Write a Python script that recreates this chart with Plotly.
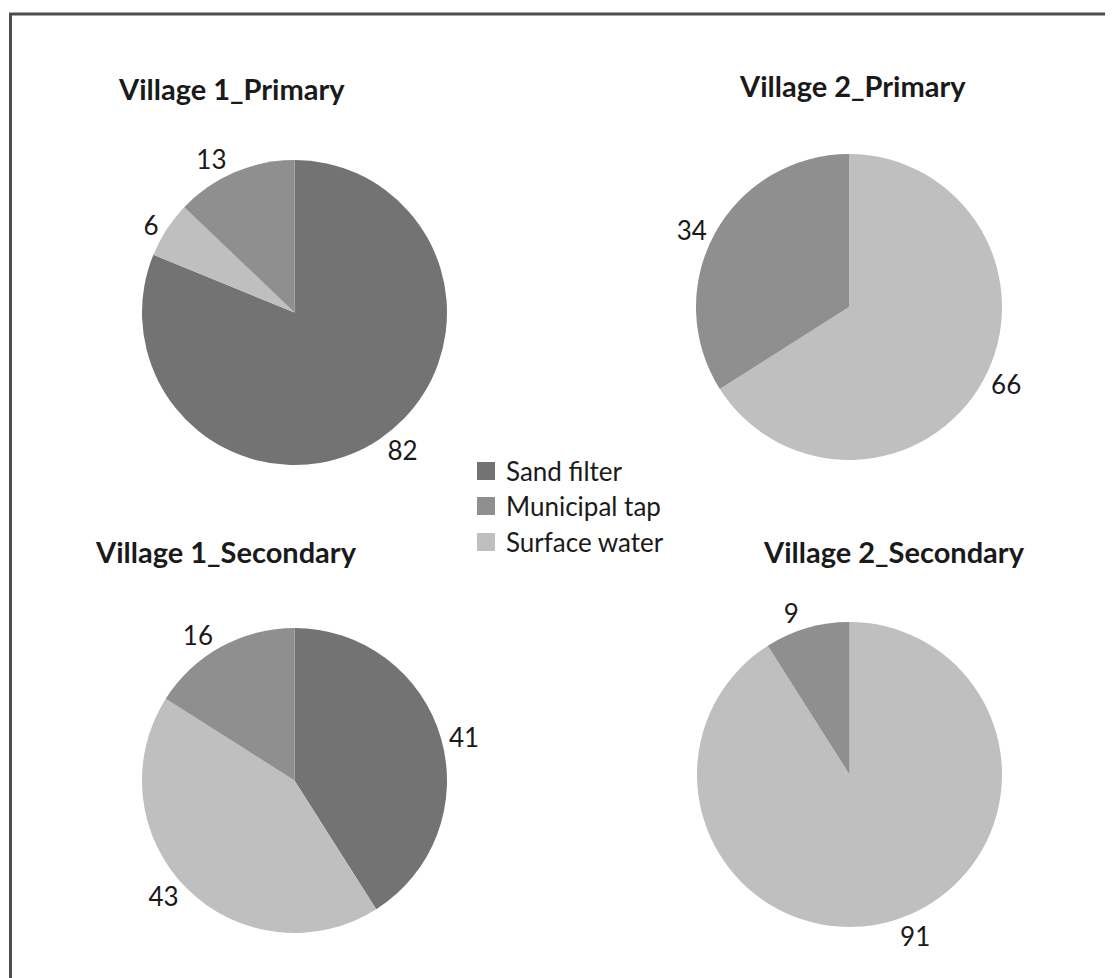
import plotly.graph_objects as go

W, H = 1113, 978
OX, OY = 8, 8  # page body margin offset of the rendered figure

# ---- data ----
categories = ["Sand filter", "Municipal tap", "Surface water"]
colors = {"Sand filter": "#737373", "Municipal tap": "#8f8f8f", "Surface water": "#bfbfbf"}

# slice order as drawn clockwise from 12 o'clock
v1_primary_labels = ["Sand filter", "Surface water", "Municipal tap"]
v1_primary_values = [82, 6, 13]

v2_primary_labels = ["Surface water", "Municipal tap"]
v2_primary_values = [66, 34]

v1_secondary_labels = ["Sand filter", "Surface water", "Municipal tap"]
v1_secondary_values = [41, 43, 16]

v2_secondary_labels = ["Surface water", "Municipal tap"]
v2_secondary_values = [91, 9]

titles = ["Village 1_Primary", "Village 2_Primary", "Village 1_Secondary", "Village 2_Secondary"]

FONT = "Lato"
TXT = "#1a1a1a"


def px(x):
    return (x - OX) / W


def py(y):
    return 1 - (y - OY) / H


def dom(cx, cy, r):
    return dict(x=[px(cx - r), px(cx + r)], y=[py(cy + r), py(cy - r)])


pies = [
    (v1_primary_labels, v1_primary_values, dom(294.5, 312.5, 152.5)),
    (v2_primary_labels, v2_primary_values, dom(849, 307, 153)),
    (v1_secondary_labels, v1_secondary_values, dom(294.5, 780.5, 152.5)),
    (v2_secondary_labels, v2_secondary_values, dom(849.5, 774.5, 152.5)),
]

fig = go.Figure()
for labels, values, d in pies:
    fig.add_trace(go.Pie(
        labels=labels, values=values, domain=d,
        sort=False, direction="clockwise", rotation=0,
        marker=dict(colors=[colors[l] for l in labels], line=dict(width=0)),
        textinfo="value", textposition="outside",
        outsidetextfont=dict(family=FONT, size=26, color=TXT),
        showlegend=False, hoverinfo="label+value",
    ))

# titles
title_pos = [(231, 89), (852, 86), (226, 551), (894, 551)]
annotations = []
for t, (x, y) in zip(titles, title_pos):
    annotations.append(dict(text="<b>%s</b>" % t, x=px(x), y=py(y), xref="paper", yref="paper",
                            xanchor="center", yanchor="middle", showarrow=False,
                            font=dict(family=FONT, size=29, color=TXT)))

# legend (drawn manually to keep category order)
shapes = []
leg_rows = [471, 506, 542]
for cat, yc in zip(categories, leg_rows):
    shapes.append(dict(type="rect", xref="paper", yref="paper",
                       x0=px(477), x1=px(495), y0=py(yc + 9), y1=py(yc - 9),
                       fillcolor=colors[cat], line=dict(width=0)))
    annotations.append(dict(text=cat, x=px(504), y=py(yc), xref="paper", yref="paper",
                            xanchor="left", yanchor="middle", showarrow=False,
                            font=dict(family=FONT, size=26, color=TXT)))

# chart frame (left and top edges visible)
shapes.append(dict(type="path", xref="paper", yref="paper",
                   path="M %f,%f L %f,%f L %f,%f" % (px(10.5), -0.05, px(10.5), py(14), 1.05, py(14)),
                   line=dict(color="#4d4d4d", width=3)))

fig.update_layout(width=W, height=H, margin=dict(l=0, r=0, t=0, b=0),
                  paper_bgcolor="white", plot_bgcolor="white",
                  annotations=annotations, shapes=shapes,
                  font=dict(family=FONT, color=TXT))

fig.write_html("out.html")
